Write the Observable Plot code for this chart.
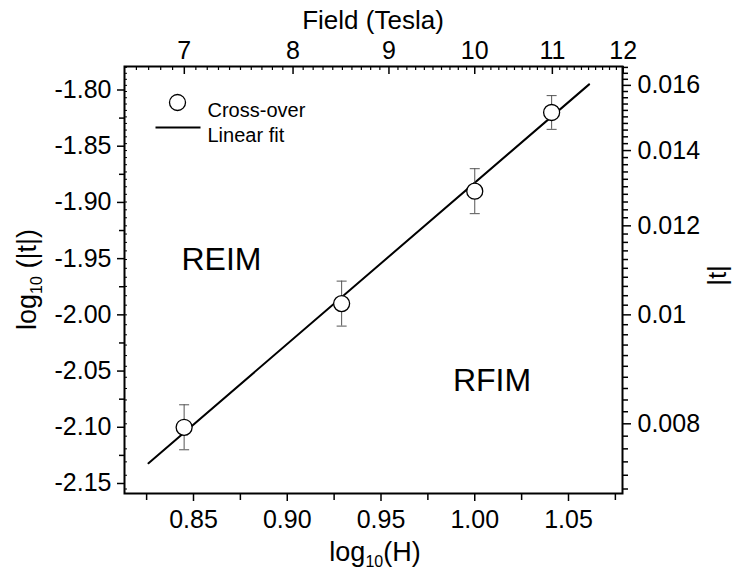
<!DOCTYPE html>
<html><head><meta charset="utf-8">
<script src="https://cdn.jsdelivr.net/npm/d3@7"></script>
<script src="https://cdn.jsdelivr.net/npm/@observablehq/plot@0.6"></script>
<style>html,body{margin:0;padding:0;background:#fff;}</style>
</head><body><div id="chart"></div>
<script>
// ---- data ----
const fieldTesla = [7, 8.5, 10, 11];
const logH = [0.845, 0.929, 1.000, 1.041];
const logT = [-2.10, -1.99, -1.89, -1.82];
const logTErr = [0.02, 0.02, 0.02, 0.015];
const fitLogH = [0.826, 1.061];
const fitLogT = [-2.132, -1.795];

// ---- ticks ----
const xTicks = [0.85, 0.90, 0.95, 1.00, 1.05];
const xMinorTicks = [0.825, 0.875, 0.925, 0.975, 1.025, 1.075];
const yTicks = [-1.80, -1.85, -1.90, -1.95, -2.00, -2.05, -2.10, -2.15];
const yMinorTicks = [-1.825, -1.875, -1.925, -1.975, -2.025, -2.075, -2.125];
const topTicks = [7, 8, 9, 10, 11, 12];
const rightTicks = [0.016, 0.014, 0.012, 0.01, 0.008];
const rightTickLabels = ["0.016", "0.014", "0.012", "0.01", "0.008"];
const legendLabels = ["Cross-over", "Linear fit"];
const regionLabels = ["REIM", "RFIM"];

const topMinor = d3.range(66, 121).map(k => k / 10).filter(v => !topTicks.includes(v));
const rightMinorAll = d3.range(35, 84).map(k => k * 0.0002);
const rightMinor = rightMinorAll.filter((v, i) => (35 + i) % 10 !== 0);

const points = logH.map((x, i) => ({x, y: logT[i], e: logTErr[i], field: fieldTesla[i]}));
const fit = fitLogH.map((x, i) => ({x, y: fitLogT[i]}));

const W = 749, H = 569, mL = 124, mR = 127, mT = 66, mB = 76;
const innerW = W - mL - mR, innerH = H - mT - mB;
const FONT = "'Liberation Sans', Arial, Helvetica, sans-serif";

const capSymbol = {draw(ctx) { ctx.moveTo(-5, 0); ctx.lineTo(5, 0); }};
const dashSymbol = {draw(ctx) { ctx.moveTo(-22.5, 0); ctx.lineTo(22.5, 0); }};

const chart = Plot.plot({
  width: W, height: H,
  marginLeft: mL, marginRight: mR, marginTop: mT, marginBottom: mB,
  style: {fontFamily: FONT, background: "#fff", color: "#000"},
  x: {domain: [0.8132, 1.0788]},
  y: {domain: [-2.1589, -1.7791]},
  marks: [
    // bottom axis
    Plot.axisX({anchor: "bottom", ticks: xTicks, tickSize: 8, tickPadding: 9, strokeWidth: 1.5,
      tickFormat: d => d.toFixed(2), fontSize: 25, label: null}),
    Plot.axisX({anchor: "bottom", ticks: xMinorTicks, tickSize: 7, strokeWidth: 1.5, tickFormat: () => "", label: null}),
    // top axis (Field, Tesla)
    Plot.axisX({anchor: "top", ticks: topTicks.map(Math.log10), tickSize: 0, tickPadding: 8,
      tickFormat: d => String(Math.round(10 ** d)), fontSize: 25, label: null}),
    Plot.tickX(topTicks, {x: d => Math.log10(d), insetBottom: innerH - 8, strokeWidth: 1.5}),
    Plot.tickX(topMinor, {x: d => Math.log10(d), insetBottom: innerH - 4, strokeWidth: 1.2}),
    // left axis
    Plot.axisY({anchor: "left", ticks: yTicks, tickSize: 7, tickPadding: 6, strokeWidth: 1.5,
      tickFormat: d => d.toFixed(2), fontSize: 25, label: null}),
    Plot.axisY({anchor: "left", ticks: yMinorTicks, tickSize: 5, strokeWidth: 1.5, tickFormat: () => "", label: null}),
    Plot.tickY(rightMinorAll, {y: d => Math.log10(d), insetRight: innerW - 3, strokeWidth: 1}),
    // right axis (|t|)
    Plot.axisY({anchor: "right", ticks: rightTicks.map(Math.log10), tickSize: 8, tickPadding: 7, strokeWidth: 1.5,
      tickFormat: (d, i) => rightTickLabels[i], fontSize: 25, label: null}),
    Plot.axisY({anchor: "right", ticks: rightMinor.map(Math.log10), tickSize: 5, strokeWidth: 1.5, tickFormat: () => "", label: null}),
    Plot.frame({stroke: "#000", strokeWidth: 2}),
    // fit line
    Plot.line(fit, {x: "x", y: "y", stroke: "#000", strokeWidth: 2}),
    // error bars
    Plot.ruleX(points, {x: "x", y1: d => d.y - d.e, y2: d => d.y + d.e, stroke: "#555", strokeWidth: 1}),
    Plot.dot(points, {x: "x", y: d => d.y - d.e, symbol: capSymbol, fill: "none", stroke: "#555", strokeWidth: 1}),
    Plot.dot(points, {x: "x", y: d => d.y + d.e, symbol: capSymbol, fill: "none", stroke: "#555", strokeWidth: 1}),
    // points
    Plot.dot(points, {x: "x", y: "y", r: 8, fill: "#fff", stroke: "#000", strokeWidth: 1.3}),
    // legend
    Plot.dot([legendLabels[0]], {frameAnchor: "top-left", dx: 53, dy: 36, r: 8, fill: "#fff", stroke: "#000", strokeWidth: 1.3}),
    Plot.dot([legendLabels[1]], {frameAnchor: "top-left", dx: 53.5, dy: 61, symbol: dashSymbol, fill: "none", stroke: "#000", strokeWidth: 2}),
    Plot.text([legendLabels[0]], {frameAnchor: "top-left", dx: 83, dy: 36.5, text: d => d, textAnchor: "start", fontSize: 20}),
    Plot.text([legendLabels[1]], {frameAnchor: "top-left", dx: 83, dy: 61.5, text: d => d, textAnchor: "start", fontSize: 20}),
    // region labels
    Plot.text([regionLabels[0]], {frameAnchor: "top-left", dx: 97, dy: 181, text: d => d, textAnchor: "middle", fontSize: 32}),
    Plot.text([regionLabels[1]], {frameAnchor: "top-left", dx: 367.5, dy: 302, text: d => d, textAnchor: "middle", fontSize: 32})
  ]
});

document.getElementById("chart").appendChild(chart);
const svg = d3.select(chart);
// axis titles
svg.append("text").attr("x", mL + innerW / 2).attr("y", 29).attr("text-anchor", "middle")
  .attr("font-size", 26).attr("font-family", FONT).attr("fill", "#000").text("Field (Tesla)");
const bt = svg.append("text").attr("x", mL + innerW / 2 + 2).attr("y", 561).attr("text-anchor", "middle")
  .attr("font-size", 27).attr("font-family", FONT).attr("fill", "#000");
bt.append("tspan").text("log");
bt.append("tspan").attr("font-size", 16).attr("dy", 6).text("10");
bt.append("tspan").attr("dy", -6).text("(H)");
const lt = svg.append("text").attr("transform", `translate(36,${mT + innerH / 2}) rotate(-90)`).attr("text-anchor", "middle")
  .attr("font-size", 27).attr("font-family", FONT).attr("fill", "#000");
lt.append("tspan").text("log");
lt.append("tspan").attr("font-size", 16).attr("dy", 6).text("10");
lt.append("tspan").attr("dy", -6).text(" (|t|)");
svg.append("text").attr("transform", `translate(726,${mT + innerH / 2 - 4}) rotate(-90)`).attr("text-anchor", "middle")
  .attr("font-size", 26).attr("font-family", FONT).attr("fill", "#000").text("|t|");
</script>
</body></html>
